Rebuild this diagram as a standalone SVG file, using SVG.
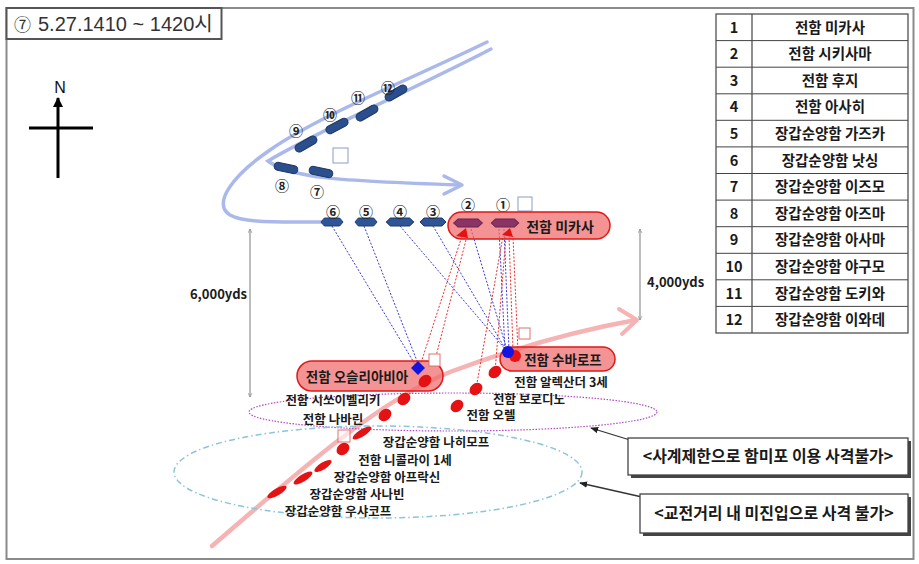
<svg xmlns="http://www.w3.org/2000/svg" width="919" height="564" viewBox="0 0 919 564">
<style>
.k{font-family:"Noto Sans CJK KR","Liberation Sans",sans-serif;font-weight:bold;fill:#1a1a1a}
.lb{font-size:12.5px}
.tb{font-size:14.5px;text-anchor:middle}
.cn{font-family:"Noto Sans CJK KR",sans-serif;font-size:14px;font-weight:bold;text-anchor:middle;fill:#222}
.cap{fill:#2b4f8c;stroke:#1c3866;stroke-width:1}
.hex{fill:#2f5596;stroke:#1c3866;stroke-width:1}
.rr{fill:#f06a6a;fill-opacity:0.72;stroke:#e01818;stroke-width:1.5}
.rb{fill:#e41212}
.bd{stroke:#3a3ad8;stroke-width:1;stroke-dasharray:2 1.6;fill:none}
.rd{stroke:#e83030;stroke-width:1;stroke-dasharray:2 1.6;fill:none}
.sq{fill:#fff;stroke-width:1}
.dim{stroke:#9a9a9a;stroke-width:1.3;fill:none}
.crs{stroke:#aab8ea;stroke-width:3.5;fill:none;stroke-linecap:round}
</style>
<defs>
<marker id="chev" viewBox="0 0 10 10" refX="9" refY="5" markerWidth="5" markerHeight="5" orient="auto-start-reverse" markerUnits="userSpaceOnUse">
<path d="M1,1 L9,5 L1,9" fill="none" stroke="#888" stroke-width="1.3"/>
</marker>
<marker id="tri" viewBox="0 0 10 10" refX="9" refY="5" markerWidth="8" markerHeight="8" orient="auto" markerUnits="userSpaceOnUse">
<path d="M0,1 L10,5 L0,9 Z" fill="#222"/>
</marker>
<marker id="blk" viewBox="0 0 10 10" refX="9" refY="5" markerWidth="10" markerHeight="10" orient="auto" markerUnits="userSpaceOnUse">
<path d="M0,0 L10,5 L0,10 Z" fill="#000"/>
</marker>
<polygon id="hx" points="-13,0 -9,-4 9,-4 13,0 9,4 -9,4"/>
</defs>

<rect x="0" y="0" width="919" height="564" fill="#fff"/>
<rect x="6.5" y="8" width="907" height="551" fill="none" stroke="#8a8a8a" stroke-width="2"/>

<g id="title">
<rect x="6.5" y="8" width="215" height="31" fill="#fff" stroke="#555" stroke-width="2"/>
<text x="14" y="31" font-family="Noto Sans CJK KR,sans-serif" font-size="17" fill="#333">⑦</text>
<text x="38" y="31" font-family="Liberation Sans,Noto Sans CJK KR,sans-serif" font-size="20" fill="#333">5.27.1410 ~ 1420시</text>
</g>

<g id="compass">
<text x="60" y="93" font-family="Liberation Sans,sans-serif" font-size="16" text-anchor="middle" fill="#111">N</text>
<line x1="58" y1="178" x2="58" y2="98" stroke="#000" stroke-width="3" marker-end="url(#blk)"/>
<line x1="29" y1="128" x2="93" y2="128" stroke="#000" stroke-width="3"/>
</g>

<g id="legend" class="k">
<rect x="716" y="14" width="192" height="319" fill="#fff" stroke="#444" stroke-width="1.2"/>
<line x1="752" y1="14" x2="752" y2="333" stroke="#444" stroke-width="1.2"/>
<g stroke="#444" stroke-width="1">
<line x1="716" y1="40.6" x2="908" y2="40.6"/><line x1="716" y1="67.2" x2="908" y2="67.2"/>
<line x1="716" y1="93.8" x2="908" y2="93.8"/><line x1="716" y1="120.3" x2="908" y2="120.3"/>
<line x1="716" y1="146.9" x2="908" y2="146.9"/><line x1="716" y1="173.5" x2="908" y2="173.5"/>
<line x1="716" y1="200.1" x2="908" y2="200.1"/><line x1="716" y1="226.7" x2="908" y2="226.7"/>
<line x1="716" y1="253.3" x2="908" y2="253.3"/><line x1="716" y1="279.8" x2="908" y2="279.8"/>
<line x1="716" y1="306.4" x2="908" y2="306.4"/>
</g>
<g class="tb">
<text x="734" y="32.5">1</text><text x="830" y="32.5">전함 미카사</text>
<text x="734" y="59.1">2</text><text x="830" y="59.1">전함 시키사마</text>
<text x="734" y="85.7">3</text><text x="830" y="85.7">전함 후지</text>
<text x="734" y="112.3">4</text><text x="830" y="112.3">전함 아사히</text>
<text x="734" y="138.9">5</text><text x="830" y="138.9">장갑순양함 가즈카</text>
<text x="734" y="165.5">6</text><text x="830" y="165.5">장갑순양함 낫싱</text>
<text x="734" y="192.1">7</text><text x="830" y="192.1">장갑순양함 이즈모</text>
<text x="734" y="218.7">8</text><text x="830" y="218.7">장갑순양함 아즈마</text>
<text x="734" y="245.3">9</text><text x="830" y="245.3">장갑순양함 아사마</text>
<text x="734" y="271.9">10</text><text x="830" y="271.9">장갑순양함 야구모</text>
<text x="734" y="298.5">11</text><text x="830" y="298.5">장갑순양함 도키와</text>
<text x="734" y="325.1">12</text><text x="830" y="325.1">장갑순양함 이와데</text>
</g>
</g>

<g id="connectors">
<path class="crs" d="M487,42 C420,75 320,115 270,150 C232,176 212,204 230,215 C244,223 275,222 330,222"/>
<path class="crs" d="M491,49 C420,86 320,130 268,161 C290,178 340,181 460,185"/>
<path d="M444,176 L462,185 L444,194" fill="none" stroke="#aab8ea" stroke-width="3.5" stroke-linecap="round" stroke-linejoin="round"/>
<path d="M212,546 C300,470 380,400 450,372 C520,346 580,330 636,320" fill="none" stroke="#f5b3b3" stroke-width="4.5" stroke-linecap="round"/>
<path d="M619,309 L637,320 L622,334" fill="none" stroke="#f5b3b3" stroke-width="4" stroke-linecap="round" stroke-linejoin="round"/>
<line class="dim" x1="250" y1="229" x2="250" y2="397" marker-start="url(#chev)" marker-end="url(#chev)"/>
<line class="dim" x1="640" y1="229" x2="640" y2="320" marker-start="url(#chev)" marker-end="url(#chev)"/>
<ellipse cx="453" cy="412" rx="204" ry="19" fill="none" stroke="#b248c8" stroke-width="1.2" stroke-dasharray="1.5 1.5"/>
<ellipse cx="378" cy="472" rx="204" ry="46" fill="none" stroke="#8cc4d8" stroke-width="1.5" stroke-dasharray="6 3 1.5 3"/>
<g>
<line class="bd" x1="332" y1="226" x2="416" y2="366"/>
<line class="bd" x1="364" y1="226" x2="419" y2="366"/>
<line class="bd" x1="400" y1="226" x2="506" y2="350"/>
<line class="bd" x1="433" y1="226" x2="506" y2="350"/>
<line class="bd" x1="471" y1="229" x2="507" y2="350"/>
<line class="bd" x1="499" y1="229" x2="505" y2="350"/>
<line class="bd" x1="504" y1="229" x2="509" y2="350"/>
<line class="rd" x1="420" y1="366" x2="462" y2="236"/>
<line class="rd" x1="434" y1="364" x2="467" y2="236"/>
<line class="rd" x1="476" y1="389" x2="503" y2="236"/>
<line class="rd" x1="495" y1="372" x2="506" y2="236"/>
<line class="rd" x1="513" y1="350" x2="509" y2="236"/>
<line class="rd" x1="518" y1="352" x2="513" y2="236"/>
</g>
<line x1="630" y1="440" x2="591" y2="428" stroke="#333" stroke-width="1.3" marker-end="url(#tri)"/>
<line x1="642" y1="497" x2="580" y2="483" stroke="#333" stroke-width="1.3" marker-end="url(#tri)"/>
</g>

<g id="japan-rear">
<rect class="cap" x="-12" y="-4" width="24" height="8" rx="4" transform="translate(396,93) rotate(-30)"/>
<rect class="cap" x="-12" y="-4" width="24" height="8" rx="4" transform="translate(367,113) rotate(-30)"/>
<rect class="cap" x="-12" y="-4" width="24" height="8" rx="4" transform="translate(337,126) rotate(-28)"/>
<rect class="cap" x="-12" y="-4" width="24" height="8" rx="4" transform="translate(306,144) rotate(-30)"/>
<rect class="cap" x="-12" y="-4" width="24" height="8" rx="4" transform="translate(286,168) rotate(12)"/>
<rect class="cap" x="-12" y="-4" width="24" height="8" rx="4" transform="translate(321,172) rotate(12)"/>
<text class="cn" x="388" y="93">⑫</text>
<text class="cn" x="358" y="103">⑪</text>
<text class="cn" x="330" y="120">⑩</text>
<text class="cn" x="296" y="136">⑨</text>
<text class="cn" x="282" y="191">⑧</text>
<text class="cn" x="317" y="197">⑦</text>
<rect class="sq" x="333" y="148" width="15" height="15" stroke="#8a9cc8"/>
</g>

<g id="japan-main">
<use href="#hx" class="hex" transform="translate(332,222) scale(0.85,1)"/>
<use href="#hx" class="hex" transform="translate(366,222) scale(0.85,1)"/>
<use href="#hx" class="hex" transform="translate(400,222) scale(1.05,1)"/>
<use href="#hx" class="hex" transform="translate(433,222)"/>
<text class="cn" x="333" y="217">⑥</text>
<text class="cn" x="366" y="217">⑤</text>
<text class="cn" x="400" y="217">④</text>
<text class="cn" x="433" y="217">③</text>
<text class="cn" x="468" y="210">②</text>
<text class="cn" x="503" y="210">①</text>
<rect class="sq" x="518" y="197" width="14" height="14" stroke="#8a9cc8"/>
</g>

<g id="mikasa">
<rect class="rr" x="448" y="212" width="162" height="27" rx="13.5"/>
<use href="#hx" fill="#8a3466" stroke="#6a2050" transform="translate(468,223) scale(1.1,1)"/>
<use href="#hx" fill="#8a3466" stroke="#6a2050" transform="translate(505,223) scale(1.05,1)"/>
<path d="M456,236 L466,228 L468,238 Z" class="rb"/>
<path d="M502,235 L510,228 L513,237 Z" class="rb"/>
<text class="k" x="560" y="232" text-anchor="middle" style="font-size:14px">전함 미카사</text>
</g>

<g id="dist6000">
<text class="k" x="247" y="299" text-anchor="end" style="font-size:13px" fill="#333">6,000yds</text>
</g>
<g id="dist4000">
<text class="k" x="647" y="287" style="font-size:13px" fill="#333">4,000yds</text>
</g>

<g id="oslyabya">
<rect class="rr" x="297" y="361" width="146" height="30" rx="15"/>
<text class="k" x="357" y="382" text-anchor="middle" style="font-size:13.5px">전함 오슬리아비아</text>
<ellipse class="rb" cx="425" cy="381" rx="7" ry="5.5" transform="rotate(-40 425 381)"/>
<path d="M418,361 L425,368 L418,375 L411,368 Z" fill="#1414e0"/>
<rect class="sq" x="429" y="354" width="11" height="12" stroke="#e07070"/>
</g>

<g id="russia-col1">
<ellipse class="rb" cx="404" cy="399" rx="7" ry="5.5" transform="rotate(-40 404 399)"/>
<ellipse class="rb" cx="385" cy="415" rx="7" ry="5.5" transform="rotate(-40 385 415)"/>
<ellipse class="rb" cx="362" cy="433" rx="11" ry="3.5" transform="rotate(-32 362 433)"/>
<ellipse class="rb" cx="343" cy="449" rx="7" ry="5.5" transform="rotate(-40 343 449)"/>
<ellipse class="rb" cx="323" cy="466" rx="10" ry="3.5" transform="rotate(-32 323 466)"/>
<ellipse class="rb" cx="303" cy="478" rx="11" ry="3.5" transform="rotate(-32 303 478)"/>
<ellipse class="rb" cx="277" cy="492" rx="11" ry="3.5" transform="rotate(-30 277 492)"/>
<rect class="sq" x="338" y="430" width="12" height="12" stroke="#e07070" fill-opacity="0.6"/>
<text class="k lb" x="333" y="405" text-anchor="middle">전함 시쏘이벨리키</text>
<text class="k lb" x="333" y="424" text-anchor="middle">전함 나바린</text>
<text class="k lb" x="436" y="447" text-anchor="middle">장갑순양함 나히모프</text>
<text class="k lb" x="405" y="465" text-anchor="middle">전함 니콜라이 1세</text>
<text class="k lb" x="387" y="482" text-anchor="middle">장갑순양함 아프락신</text>
<text class="k lb" x="357" y="499" text-anchor="middle">장갑순양함 사나빈</text>
<text class="k lb" x="338" y="516" text-anchor="middle">장갑순양함 우샤코프</text>
</g>

<g id="suvorov">
<rect class="rr" x="500" y="347" width="115" height="24" rx="12"/>
<circle cx="515" cy="356" r="6" fill="#e41212"/>
<circle cx="508" cy="352" r="6" fill="#1414e0"/>
<rect class="sq" x="519" y="328" width="11" height="11" stroke="#e07070"/>
<text class="k" x="563" y="365" text-anchor="middle" style="font-size:13.5px">전함 수바로프</text>
</g>

<g id="russia-col2">
<ellipse class="rb" cx="495" cy="372" rx="7" ry="5.5" transform="rotate(-40 495 372)"/>
<ellipse class="rb" cx="476" cy="389" rx="7" ry="5.5" transform="rotate(-40 476 389)"/>
<ellipse class="rb" cx="457" cy="406" rx="7" ry="5.5" transform="rotate(-40 457 406)"/>
<text class="k lb" x="561" y="387" text-anchor="middle">전함 알렉산더 3세</text>
<text class="k lb" x="529" y="404" text-anchor="middle">전함 보로디노</text>
<text class="k lb" x="491" y="420" text-anchor="middle">전함 오렐</text>
</g>

<g id="note1">
<rect x="631" y="441" width="280" height="37" fill="#444"/>
<rect x="628" y="438" width="280" height="37" fill="#fff" stroke="#444" stroke-width="1.3"/>
<text class="k" x="768" y="462" text-anchor="middle" style="font-size:16px">&lt;사계제한으로 함미포 이용 사격불가&gt;</text>
</g>
<g id="note2">
<rect x="643" y="497" width="268" height="39" fill="#444"/>
<rect x="640" y="494" width="268" height="39" fill="#fff" stroke="#444" stroke-width="1.3"/>
<text class="k" x="774" y="519" text-anchor="middle" style="font-size:16px">&lt;교전거리 내 미진입으로 사격 불가&gt;</text>
</g>
</svg>
